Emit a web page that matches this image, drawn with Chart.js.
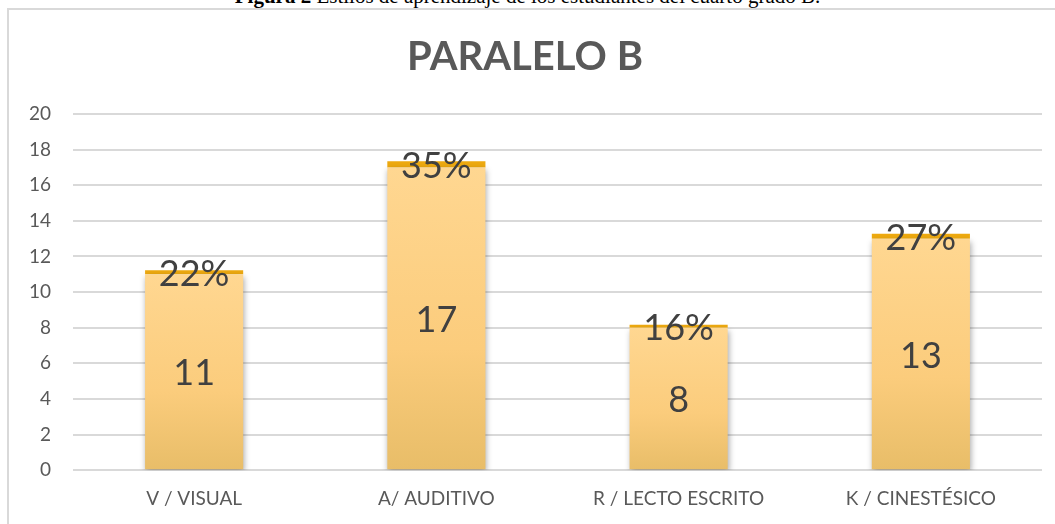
<!DOCTYPE html>
<html>
<head>
<meta charset="utf-8">
<script src="https://cdn.jsdelivr.net/npm/chart.js@4"></script>
<style>
  html, body { margin: 0; padding: 0; background: #fff; overflow: hidden; }
  #wrap { position: relative; width: 1055px; height: 524px; }
  #caption {
    position: absolute; left: 0; width: 1055px; top: -14px;
    text-align: center; font-family: "Liberation Serif", serif; font-size: 21px;
    line-height: 21px; color: #000;
  }
  #frame {
    position: absolute; left: 7px; top: 8px; right: 0; bottom: -4px;
    border-left: 2px solid #d9d9d9; border-top: 2px solid #d9d9d9;
  }
  #chart { position: absolute; left: 0; top: 0; }
</style>
</head>
<body>
<div id="wrap">
  <div id="caption"><b>Figura 2</b> Estilos de aprendizaje de los estudiantes del cuarto grado B.</div>
  <div id="frame"></div>
  <canvas id="chart" width="1055" height="524"></canvas>
</div>
<script>
"use strict";

const categories = ["V / VISUAL", "A/ AUDITIVO", "R / LECTO ESCRITO", "K / CINESTÉSICO"];
const students = [11, 17, 8, 13];
const percents = [0.22, 0.35, 0.16, 0.27];
const yTicks = [0, 2, 4, 6, 8, 10, 12, 14, 16, 18, 20];

const labelFont = "Lato, 'Open Sans', sans-serif";

const barGradient = (context) => {
  const chart = context.chart;
  const y = chart.scales.y;
  if (!y || context.parsed == null) return "#FCD283";
  const top = y.getPixelForValue(context.parsed.y);
  const bottom = y.getPixelForValue(0);
  if (!isFinite(top) || !isFinite(bottom)) return "#FCD283";
  const g = chart.ctx.createLinearGradient(0, top, 0, bottom);
  g.addColorStop(0, "#FFD791");
  g.addColorStop(0.6, "#FBCC7C");
  g.addColorStop(1, "#E8BD68");
  return g;
};

// shadow under the main bars
const barShadow = {
  id: "barShadow",
  beforeDatasetDraw(chart, args) {
    if (args.index !== 0) return;
    const ctx = chart.ctx;
    ctx.save();
    ctx.shadowColor = "rgba(0,0,0,0.35)";
    ctx.shadowBlur = 6;
    ctx.shadowOffsetX = 1;
    ctx.shadowOffsetY = 3;
  },
  afterDatasetDraw(chart, args) {
    if (args.index !== 0) return;
    chart.ctx.restore();
  },
};

// value labels centred on each segment
const segLabels = {
  id: "segLabels",
  afterDatasetsDraw(chart) {
    const ctx = chart.ctx;
    ctx.save();
    ctx.font = "36px " + labelFont;
    ctx.fillStyle = "#404040";
    ctx.textAlign = "center";
    ctx.textBaseline = "middle";
    chart.data.datasets.forEach((ds, i) => {
      const meta = chart.getDatasetMeta(i);
      meta.data.forEach((el, j) => {
        const v = ds.data[j];
        const text = i === 0 ? String(v) : Math.round(v * 100) + "%";
        ctx.fillText(text, el.x, (el.y + el.base) / 2 + 2);
      });
    });
    ctx.restore();
  },
};

new Chart(document.getElementById("chart"), {
  type: "bar",
  data: {
    labels: categories,
    datasets: [
      {
        label: "Estudiantes",
        data: students,
        backgroundColor: barGradient,
        borderWidth: 0,
        categoryPercentage: 1,
        barPercentage: 0.405,
      },
      {
        label: "Porcentaje",
        data: percents,
        backgroundColor: "#EDA90F",
        borderWidth: 0,
        categoryPercentage: 1,
        barPercentage: 0.405,
      },
    ],
  },
  options: {
    responsive: false,
    animation: false,
    layout: { padding: { left: 8, right: 13, top: 10, bottom: 5 } },
    plugins: {
      legend: { display: false },
      tooltip: { enabled: false },
      title: {
        display: true,
        text: "PARALELO B",
        color: "#595959",
        font: { family: labelFont, size: 40, weight: "bold" },
        padding: { top: 23, bottom: 33 },
      },
    },
    scales: {
      x: {
        stacked: true,
        grid: { display: false },
        border: { display: false },
        ticks: {
          color: "#595959",
          font: { family: labelFont, size: 19 },
          padding: 9,
        },
      },
      y: {
        stacked: true,
        min: 0,
        max: 20,
        afterBuildTicks: (scale) => {
          scale.ticks = yTicks.map((v) => ({ value: v }));
        },
        afterFit: (scale) => {
          scale.width = 65;
        },
        grid: { color: "#d9d9d9", lineWidth: 2, drawTicks: false },
        border: { display: false },
        ticks: {
          color: "#595959",
          font: { family: labelFont, size: 19 },
          padding: 22,
        },
      },
    },
  },
  plugins: [barShadow, segLabels],
});
</script>
</body>
</html>
